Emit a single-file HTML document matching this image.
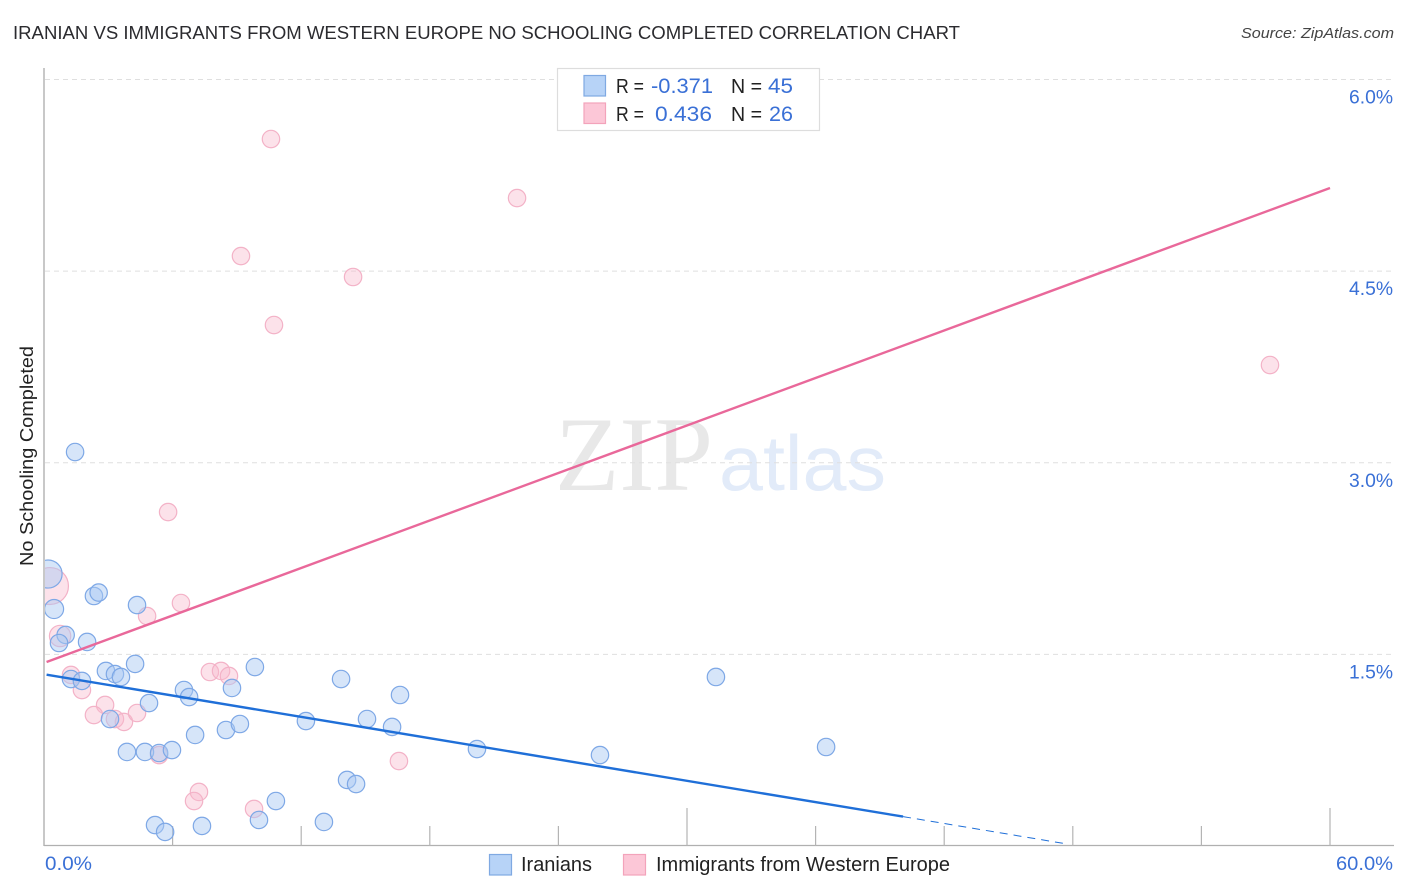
<!DOCTYPE html>
<html lang="en">
<head>
<meta charset="utf-8">
<title>Iranian vs Immigrants from Western Europe No Schooling Completed Correlation Chart</title>
<style>
html,body{margin:0;padding:0;background:#fff;}
svg{display:block;font-family:"Liberation Sans",sans-serif;}
</style>
</head>
<body>
<svg id="chart" xmlns="http://www.w3.org/2000/svg" width="1406" height="892" viewBox="0 0 1406 892">
  <defs><clipPath id="plot-clip"><rect x="45" y="60" width="1349" height="785"/></clipPath></defs>
  <rect x="0" y="0" width="1406" height="892" fill="#ffffff"/>
  <text x="13" y="39" font-size="18.5" fill="#2b2b2f" textLength="947" lengthAdjust="spacingAndGlyphs">IRANIAN VS IMMIGRANTS FROM WESTERN EUROPE NO SCHOOLING COMPLETED CORRELATION CHART</text>
  <text x="1241" y="38" font-size="15" font-style="italic" fill="#444" textLength="153" lengthAdjust="spacingAndGlyphs">Source: ZipAtlas.com</text>
  <g>
    <text x="555" y="490" font-family="'Liberation Serif',serif" font-size="106" fill="#e8e8e8" textLength="158" lengthAdjust="spacingAndGlyphs">ZIP</text>
    <text x="719" y="490" font-size="78" fill="#e2ebf9" textLength="167" lengthAdjust="spacingAndGlyphs">atlas</text>
  </g>
  <g id="grid"></g>
  <g id="axes">
    <line x1="44" y1="68" x2="44" y2="846" stroke="#aaaaaa" stroke-width="1.3"/>
    <line x1="44" y1="845.5" x2="1394" y2="845.5" stroke="#b0b0b0" stroke-width="1.3"/>
  </g>
  <g id="x-ticks"></g>
  <g id="y-labels"></g>
  <g id="x-labels"></g>
  <g id="pink-points" clip-path="url(#plot-clip)"></g>
  <g id="blue-points" clip-path="url(#plot-clip)"></g>
  <g id="trends"></g>
  <text transform="translate(33,566) rotate(-90)" font-size="18.5" fill="#222" textLength="220" lengthAdjust="spacingAndGlyphs">No Schooling Completed</text>

  <g>
    <rect x="557.5" y="68.5" width="262" height="62" fill="#ffffff" stroke="#dddddd" stroke-width="1.2"/>
    <rect x="584" y="75.5" width="21.5" height="20.5" fill="#b7d3f7" stroke="#7fa9e2" stroke-width="1.2"/>
    <rect x="584" y="103" width="21.5" height="20.5" fill="#fcc7d7" stroke="#f3a3bb" stroke-width="1.2"/>
    <g font-size="20" fill="#222">
      <text x="616" y="93" textLength="28" lengthAdjust="spacingAndGlyphs">R =</text>
      <text x="616" y="121" textLength="28" lengthAdjust="spacingAndGlyphs">R =</text>
      <text x="731" y="93" textLength="31" lengthAdjust="spacingAndGlyphs">N =</text>
      <text x="731" y="121" textLength="31" lengthAdjust="spacingAndGlyphs">N =</text>
    </g>
    <g font-size="21" fill="#3a70d6">
      <text x="651" y="93" textLength="62" lengthAdjust="spacingAndGlyphs">-0.371</text>
      <text x="655" y="121" textLength="57" lengthAdjust="spacingAndGlyphs">0.436</text>
      <text x="768" y="93" textLength="25" lengthAdjust="spacingAndGlyphs">45</text>
      <text x="769" y="121" textLength="24" lengthAdjust="spacingAndGlyphs">26</text>
    </g>
  </g>

  <g>
    <g>
      <rect x="489.5" y="854.5" width="22" height="20.5" fill="#b7d3f7" stroke="#7fa9e2" stroke-width="1.2"/>
      <text x="521" y="871" font-size="20" fill="#222" textLength="71" lengthAdjust="spacingAndGlyphs">Iranians</text>
    </g>
    <g>
      <rect x="623.5" y="854.5" width="22" height="20.5" fill="#fcc7d7" stroke="#f3a3bb" stroke-width="1.2"/>
      <text x="656" y="871" font-size="20" fill="#222" textLength="294" lengthAdjust="spacingAndGlyphs">Immigrants from Western Europe</text>
    </g>
  </g>
</svg>
<script>
// Data values (percent)
const xTickValues = [6, 12, 18, 24, 30, 36, 42, 48, 54, 60];
const xMajorTicks = [30, 60];
const xLabelValues = [0, 60];
const xLabelTexts = ['0.0%', '60.0%'];
const yTickValues = [1.5, 3, 4.5, 6];
const yTickLabels = ['1.5%', '3.0%', '4.5%', '6.0%'];

const iraniansX = [0.19,0.47,2.33,2.55,4.34,1.01,0.70,2.01,4.25,2.89,3.31,3.59,1.26,1.77,9.84,6.53,6.77,8.77,4.90,3.08,7.05,8.49,9.14,3.87,4.71,5.37,5.97,5.18,5.65,7.37,10.03,10.82,1.45,13.86,16.61,15.07,16.24,12.22,20.20,14.14,14.56,13.06,25.94,31.35,36.49];
const iraniansY = [2.129,1.855,1.957,1.984,1.886,1.652,1.589,1.597,1.425,1.370,1.346,1.323,1.307,1.292,1.401,1.221,1.166,1.237,1.119,0.994,0.869,0.908,0.955,0.736,0.736,0.728,0.751,0.164,0.110,0.157,0.204,0.352,3.084,1.307,1.182,0.994,0.932,0.978,0.759,0.517,0.485,0.188,0.712,1.323,0.775];
const iraniansWeight = [2.6,1.2,1,1,1,1,1,1,1,1,1,1,1,1,1,1,1,1,1,1,1,1,1,1,1,1,1,1,1,1,1,1,1,1,1,1,1,1,1,1,1,1,1,1,1];

const immigrantsX = [0.28,0.75,6.39,4.81,1.26,1.77,2.85,2.33,3.31,3.73,4.34,7.74,8.26,8.63,5.37,7.23,7.00,9.80,16.56,10.59,22.07,9.19,14.42,10.73,57.20,5.79];
const immigrantsY = [2.035,1.644,1.902,1.800,1.339,1.221,1.104,1.025,0.994,0.971,1.041,1.362,1.370,1.331,0.712,0.423,0.352,0.290,0.665,5.534,5.072,4.618,4.454,4.078,3.765,2.614];
const immigrantsWeight = [4.5,1.5,1,1,1,1,1,1,1,1,1,1,1,1,1,1,1,1,1,1,1,1,1,1,1,1];

const iraniansTrendX = [0.12, 40.08];
const iraniansTrendY = [1.341, 0.230];
const iraniansExtrapX = [40.08, 47.73];
const iraniansExtrapY = [0.230, 0.016];
const immigrantsTrendX = [0.12, 60];
const immigrantsTrendY = [1.440, 5.151];

const NS = 'http://www.w3.org/2000/svg';
const xScale = v => 44 + v * 1286 / 60;
const yScale = v => 846 - v * 127.75;
const radius = w => 8.7 * Math.sqrt(w);

function make(tag, parentId, attrs, text) {
  const el = document.createElementNS(NS, tag);
  for (const k in attrs) el.setAttribute(k, attrs[k]);
  if (text !== undefined) el.textContent = text;
  document.getElementById(parentId).appendChild(el);
  return el;
}

yTickValues.forEach((v, i) => {
  const line = make('line', 'grid', {x1: 45, x2: 1393, y1: yScale(v), y2: yScale(v), stroke: '#dfdfdf', 'stroke-width': 1, 'stroke-dasharray': '5 4'});
  
  
  const label = make('text', 'y-labels', {x: 1349, y: yScale(v) + 24, 'font-size': 19, fill: '#3a70d6', textLength: 44, lengthAdjust: 'spacingAndGlyphs'}, yTickLabels[i]);
  
  
});

xTickValues.forEach(v => {
  const top = xMajorTicks.includes(v) ? 808 : 826;
  const tick = make('line', 'x-ticks', {x1: xScale(v), x2: xScale(v), y1: top, y2: 846, stroke: '#b4b4b4', 'stroke-width': 1.2});
  
  
});

xLabelValues.forEach((v, i) => {
  const px = i === 0 ? xScale(v) + 1 : xScale(v) + 6;
  const width = i === 0 ? 47 : 57;
  const label = make('text', 'x-labels', {x: px, y: 870, 'font-size': 19, fill: '#3a70d6', textLength: width, lengthAdjust: 'spacingAndGlyphs'}, xLabelTexts[i]);
  
  
});

immigrantsX.forEach((v, i) => {
  const c = make('circle', 'pink-points', {cx: xScale(v), cy: yScale(immigrantsY[i]), r: radius(immigrantsWeight[i]), fill: '#f9b9cd', 'fill-opacity': 0.42, stroke: '#f3b2c7', 'stroke-width': 1.2});
  
  
});

iraniansX.forEach((v, i) => {
  const c = make('circle', 'blue-points', {cx: xScale(v), cy: yScale(iraniansY[i]), r: radius(iraniansWeight[i]), fill: '#a9c9f2', 'fill-opacity': 0.48, stroke: '#7ea8e6', 'stroke-width': 1.2});
  
  
});

const t1 = make('line', 'trends', {x1: xScale(immigrantsTrendX[0]), y1: yScale(immigrantsTrendY[0]), x2: xScale(immigrantsTrendX[1]), y2: yScale(immigrantsTrendY[1]), stroke: '#e9689a', 'stroke-width': 2.4});


const t2 = make('line', 'trends', {x1: xScale(iraniansTrendX[0]), y1: yScale(iraniansTrendY[0]), x2: xScale(iraniansTrendX[1]), y2: yScale(iraniansTrendY[1]), stroke: '#1f6fd8', 'stroke-width': 2.4});


const t3 = make('line', 'trends', {x1: xScale(iraniansExtrapX[0]), y1: yScale(iraniansExtrapY[0]), x2: xScale(iraniansExtrapX[1]), y2: yScale(iraniansExtrapY[1]), stroke: '#1f6fd8', 'stroke-width': 1, 'stroke-dasharray': '8 6'});


</script>
</body>
</html>
